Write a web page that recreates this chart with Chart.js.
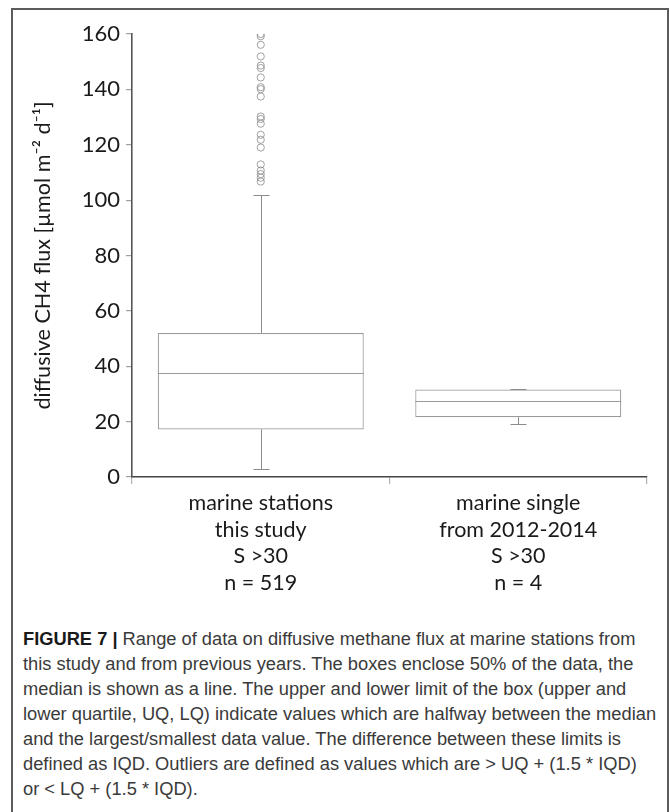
<!DOCTYPE html>
<html>
<head>
<meta charset="utf-8">
<script src="https://cdn.jsdelivr.net/npm/chart.js@4/dist/chart.umd.min.js"></script>
<style>
  html, body { margin:0; padding:0; background:#fff; }
  body { width:670px; height:812px; position:relative; overflow:hidden; }
  #frame { position:absolute; left:11px; top:8px; width:658px; height:900px; box-sizing:border-box;
           border:2px solid #5c5c5c; border-bottom:none; }
  #wrap { position:absolute; left:0; top:0; width:670px; height:610px; }
  #caption { position:absolute; left:23px; top:626px; font-family:"Liberation Sans",Arial,sans-serif;
             font-size:18.3px; line-height:25px; color:#3a3a3a; white-space:nowrap; }
  #caption b { color:#1a1a1a; }
</style>
</head>
<body>
<div id="frame"></div>
<div id="wrap"><canvas id="c" width="670" height="610"></canvas></div>
<div id="caption">
  <div><b>FIGURE 7 |</b> Range of data on diffusive methane flux at marine stations from</div>
  <div>this study and from previous years. The boxes enclose 50% of the data, the</div>
  <div>median is shown as a line. The upper and lower limit of the box (upper and</div>
  <div>lower quartile, UQ, LQ) indicate values which are halfway between the median</div>
  <div>and the largest/smallest data value. The difference between these limits is</div>
  <div>defined as IQD. Outliers are defined as values which are &gt; UQ + (1.5 * IQD)</div>
  <div>or &lt; LQ + (1.5 * IQD).</div>
</div>
<script>
// ---- data ----
const categoryLines = [
  ['marine stations', 'this study', 'S >30', 'n = 519'],
  ['marine single', 'from 2012-2014', 'S >30', 'n = 4']
];
const categories = ['marine stations this study', 'marine single from 2012-2014'];
const whiskerLow = [3, 19];
const q1 = [17.2, 21.6];
const medians = [37.6, 27.6];
const q3 = [52.0, 31.6];
const whiskerHigh = [101.8, 31.9];
const outliers = [160, 159.2, 156.1, 151.9, 148.6, 147.7, 144.3, 140.8, 140.1, 137.4,
                  130.2, 129.3, 127.6, 123.6, 121.8, 119.0, 112.9, 110.7, 109.4, 108.1, 106.7];
const outlierCategory = 0;
const yTicks = [0, 20, 40, 60, 80, 100, 120, 140, 160];

const boxLines = {
  id: 'boxLines',
  afterDatasetsDraw(chart, args, opts) {
    const {ctx, scales: {y}} = chart;
    const meta = chart.getDatasetMeta(0);
    ctx.save();
    ctx.lineWidth = 1;
    const seg = (x1, y1, x2, y2, col) => {
      ctx.strokeStyle = col;
      ctx.beginPath(); ctx.moveTo(x1, y1); ctx.lineTo(x2, y2); ctx.stroke();
    };
    categories.forEach((c, i) => {
      const bar = meta.data[i];
      const cx = Math.round(bar.x) + 0.5;
      const half = bar.width / 2;
      const ym = Math.round(y.getPixelForValue(medians[i])) + 0.5;
      seg(bar.x - half, ym, bar.x + half, ym, opts.boxColor);
      const yHi = Math.round(y.getPixelForValue(whiskerHigh[i])) + 0.5;
      const yQ3 = y.getPixelForValue(q3[i]);
      const yLo = Math.round(y.getPixelForValue(whiskerLow[i])) + 0.5;
      const yQ1 = y.getPixelForValue(q1[i]);
      seg(cx, yQ3, cx, yHi, opts.whiskerColor);
      seg(cx - opts.cap / 2, yHi, cx + opts.cap / 2, yHi, opts.whiskerColor);
      seg(cx, yQ1, cx, yLo, opts.whiskerColor);
      seg(cx - opts.cap / 2, yLo, cx + opts.cap / 2, yLo, opts.whiskerColor);
    });
    ctx.restore();
  }
};

const tickFont = { family: 'Lato, "Open Sans", sans-serif', size: 22 };

new Chart(document.getElementById('c'), {
  type: 'bar',
  data: {
    labels: categories,
    datasets: [
      {
        type: 'bar',
        data: categories.map((c, i) => [q1[i], q3[i]]),
        backgroundColor: '#ffffff',
        borderColor: '#9a9a9a',
        borderWidth: 1.2,
        borderSkipped: false,
        barPercentage: 0.8,
        categoryPercentage: 1.0
      },
      {
        type: 'scatter',
        data: outliers.map(v => ({ x: categories[outlierCategory], y: v })),
        pointStyle: 'circle',
        pointRadius: 3.6,
        pointBorderWidth: 0.8,
        pointBorderColor: '#8a8a8a',
        pointBackgroundColor: 'rgba(255,255,255,0)',
        showLine: false
      }
    ]
  },
  options: {
    responsive: false,
    animation: false,
    devicePixelRatio: 1,
    events: [],
    layout: { padding: { top: 34, right: 23, left: 0, bottom: 0 } },
    plugins: {
      legend: { display: false },
      tooltip: { enabled: false },
      boxLines: { boxColor: '#9a9a9a', whiskerColor: '#8c8c8c', cap: 16 }
    },
    scales: {
      x: {
        type: 'category',
        offset: true,
        afterFit: s => { s.height = 133; },
        grid: { display: true, offset: true, drawOnChartArea: false, tickLength: 7, color: '#b0b0b0', lineWidth: 1.2 },
        border: { display: true, color: '#444', width: 1.6 },
        ticks: {
          padding: 6,
          font: { ...tickFont, size: 21.5, lineHeight: 1.233 },
          color: '#1a1a1a',
          maxRotation: 0,
          autoSkip: false,
          callback: (v, i) => categoryLines[i]
        }
      },
      y: {
        min: 0,
        max: 160,
        afterFit: s => { s.width = 132; },
        afterBuildTicks: s => { s.ticks = yTicks.map(v => ({ value: v })); },
        grid: { display: true, drawOnChartArea: false, tickLength: 6, color: '#a0a0a0', lineWidth: 1.2 },
        border: { display: true, color: '#555', width: 1.6 },
        ticks: { padding: 6, font: tickFont, color: '#1a1a1a' },
        title: {
          display: true,
          text: 'diffusive CH4 flux [\u00b5mol m\u207b\u00b2 d\u207b\u00b9]',
          font: { ...tickFont, size: 21.6, lineHeight: 1.2 },
          color: '#1a1a1a',
          padding: { top: 30, bottom: 0 }
        }
      }
    }
  },
  plugins: [boxLines]
});
</script>
</body>
</html>
